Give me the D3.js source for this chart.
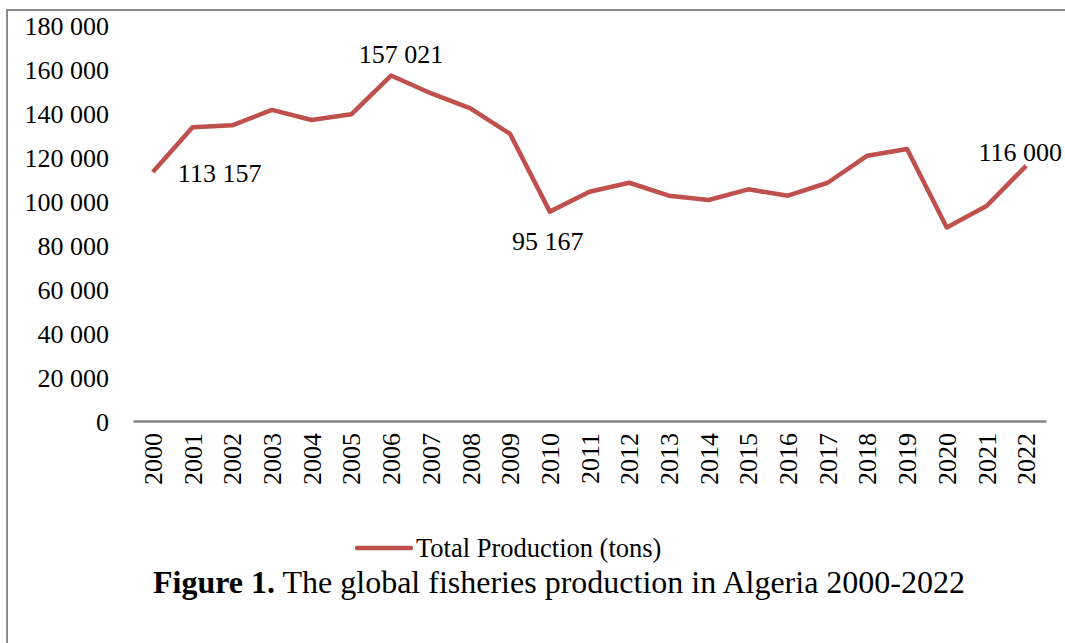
<!DOCTYPE html>
<html>
<head>
<meta charset="utf-8">
<script src="https://cdn.jsdelivr.net/npm/d3@7"></script>
<style>
    body { margin: 0; background: #fff; }
    text { font-family: "Liberation Serif", "Times New Roman", serif; fill: #000; }
</style>
</head>
<body>
<div id="chart"></div>
<script>
// values
var years = ['2000', '2001', '2002', '2003', '2004', '2005', '2006', '2007', '2008', '2009', '2010',
    '2011', '2012', '2013', '2014', '2015', '2016', '2017', '2018', '2019', '2020', '2021', '2022'];
var production = [113157, 133500, 134400, 141400, 136800, 139400, 157021, 149000, 142100, 130500, 95167,
    104200, 108300, 102400, 100450, 105300, 102400, 108300, 120600, 123600, 88000, 97700, 116000];
var yTicks = [0, 20000, 40000, 60000, 80000, 100000, 120000, 140000, 160000, 180000];
// labelled points: index in the series, anchor and offset from the point
var labelled = [
    { i: 0, anchor: 'start', dx: 25, dy: 10 },
    { i: 6, anchor: 'middle', dx: 10, dy: -13 },
    { i: 10, anchor: 'middle', dx: -2, dy: 38 },
    { i: 22, anchor: 'middle', dx: -6, dy: -5 }
];
var seriesName = 'Total Production (tons)';

var width = 1065,
    height = 643,
    margin = { top: 25, right: 19, bottom: 222, left: 133 };

var fmt = function(v) {
    return d3.format(',')(v).replace(/,/g, ' ');
};

var svg = d3.select('#chart').append('svg')
    .attr('width', width)
    .attr('height', height);

// outer frame (only left and top edges show inside the picture)
svg.append('rect')
    .attr('x', 7).attr('y', 10)
    .attr('width', width + 20).attr('height', height + 20)
    .attr('fill', 'none')
    .attr('stroke', '#8a8a8a')
    .attr('stroke-width', 2);

var x = d3.scalePoint().domain(years)
    .range([margin.left, width - margin.right]).padding(0.5);
var y = d3.scaleLinear().domain([0, 180000])
    .range([height - margin.bottom, margin.top]);

// y axis labels only
var yAxis = svg.append('g')
    .attr('transform', `translate(${margin.left - 24},0)`)
    .call(d3.axisLeft(y).tickValues(yTicks).tickFormat(fmt).tickSize(0).tickPadding(0));
yAxis.select('.domain').remove();
yAxis.selectAll('text')
    .style('font-family', '"Liberation Serif", serif')
    .style('font-size', '26px')
    .attr('dy', '0.35em');

// x axis
var xAxis = svg.append('g')
    .attr('transform', `translate(0,${height - margin.bottom})`)
    .call(d3.axisBottom(x).tickSize(0).tickPadding(0));
xAxis.select('.domain')
    .attr('stroke', '#868686')
    .attr('stroke-width', 2.5);
xAxis.selectAll('text')
    .style('font-family', '"Liberation Serif", serif')
    .style('font-size', '26px')
    .attr('transform', 'rotate(-90)')
    .attr('text-anchor', 'end')
    .attr('x', -12)
    .attr('y', 0)
    .attr('dy', '0.33em');

var line = d3.line()
    .x((d, i) => x(years[i]))
    .y(d => y(d));

svg.append('path')
    .datum(production)
    .attr('d', line)
    .attr('fill', 'none')
    .attr('stroke', '#C0504D')
    .attr('stroke-width', 4.5)
    .attr('stroke-linejoin', 'round');

svg.append('g')
    .selectAll('text')
    .data(labelled)
    .enter().append('text')
    .attr('x', d => x(years[d.i]) + d.dx)
    .attr('y', d => y(production[d.i]) + d.dy)
    .attr('text-anchor', d => d.anchor)
    .style('font-size', '26px')
    .text(d => fmt(production[d.i]));

// legend
var legend = svg.append('g').attr('transform', 'translate(357,548)');
legend.append('line')
    .attr('x1', 0).attr('x2', 54)
    .attr('stroke', '#C0504D')
    .attr('stroke-width', 4.5)
    .attr('stroke-linecap', 'round');
legend.append('text')
    .attr('x', 59)
    .attr('y', 9)
    .style('font-size', '26.5px')
    .text(seriesName);

// caption
var caption = svg.append('text')
    .attr('x', 559)
    .attr('y', 593)
    .attr('text-anchor', 'middle')
    .style('font-size', '32px');
caption.append('tspan').style('font-weight', 'bold').text('Figure 1.');
caption.append('tspan').text(' The global fisheries production in Algeria 2000-2022');
</script>
</body>
</html>
